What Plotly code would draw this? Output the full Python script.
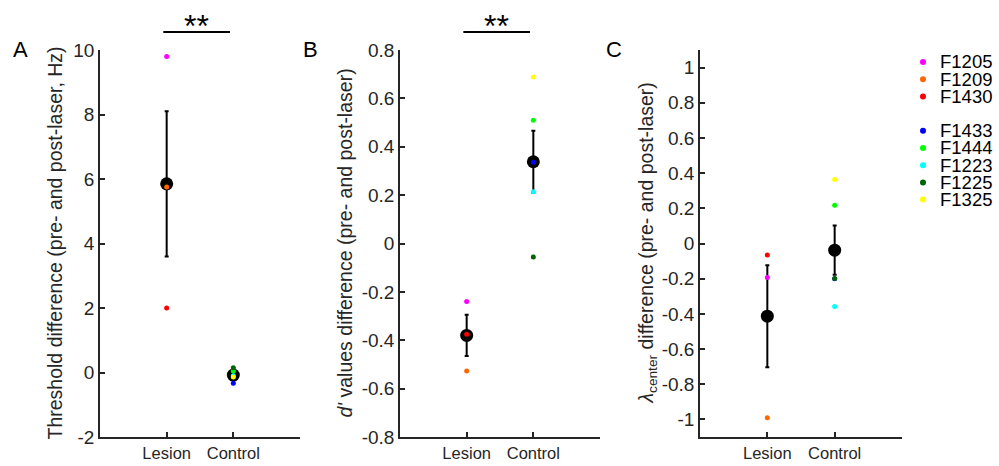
import plotly.graph_objects as go

# ---------------- data ----------------
groups = ["Lesion", "Control"]
group_pos = [1, 2]

lesion_ids = ["F1205", "F1209", "F1430"]
lesion_colors = ["#ff00ff", "#ff6600", "#ff0000"]
control_ids = ["F1433", "F1444", "F1223", "F1225", "F1325"]
control_colors = ["#0000ff", "#00ff00", "#00ffff", "#006400", "#ffff00"]

# Panel A: threshold difference (Hz)
a_lesion = [9.8, 5.75, 2.0]
a_control = [-0.33, 0.05, -0.1, 0.15, -0.14]
a_mean = [5.85, -0.08]
a_err = [2.25, 0.08]

# Panel B: d' difference
b_lesion = [-0.24, -0.527, -0.375]
b_control = [0.336, 0.51, 0.214, -0.056, 0.688]
b_mean = [-0.38, 0.338]
b_err = [0.085, 0.128]

# Panel C: lambda center difference
c_lesion = [-0.193, -0.991, -0.066]
c_control = [-0.2, 0.218, -0.358, -0.199, 0.364]
c_mean = [-0.413, -0.038]
c_err = [0.29, 0.14]

a_ticks = [-2, 0, 2, 4, 6, 8, 10]
a_ticktext = ["-2", "0", "2", "4", "6", "8", "10"]
b_ticks = [-0.8, -0.6, -0.4, -0.2, 0, 0.2, 0.4, 0.6, 0.8]
b_ticktext = ["-0.8", "-0.6", "-0.4", "-0.2", "0", "0.2", "0.4", "0.6", "0.8"]
c_ticks = [-1, -0.8, -0.6, -0.4, -0.2, 0, 0.2, 0.4, 0.6, 0.8, 1]
c_ticktext = ["-1", "-0.8", "-0.6", "-0.4", "-0.2", "0", "0.2", "0.4", "0.6", "0.8", "1"]

# ---------------- layout helpers ----------------
W, H = 999, 466
FONT = "Liberation Sans, Arial, Helvetica, sans-serif"
AXC = "#262626"
YTICK_SIZE = 19
XTICK_SIZE = 16.5
TITLE_SIZE = 19.5


def px_x(p):
    return p / W


def px_y(p):
    return 1 - p / H


ydom = [px_y(437), px_y(50)]
panels = [
    dict(xd=[px_x(100), px_x(300)], yr=[-2, 10], tv=a_ticks, tt=a_ticktext,
         les=a_lesion, con=a_control, mean=a_mean, err=a_err),
    dict(xd=[px_x(400), px_x(600)], yr=[-0.8, 0.8], tv=b_ticks, tt=b_ticktext,
         les=b_lesion, con=b_control, mean=b_mean, err=b_err),
    dict(xd=[px_x(700), px_x(902)], yr=[-1.1, 1.1], tv=c_ticks, tt=c_ticktext,
         les=c_lesion, con=c_control, mean=c_mean, err=c_err),
]

fig = go.Figure()
layout = dict(
    template="none",
    width=W, height=H, margin=dict(l=0, r=0, t=0, b=0, autoexpand=False),
    paper_bgcolor="white", plot_bgcolor="white", showlegend=False,
    font=dict(family=FONT, color=AXC, size=17),
)

for i, p in enumerate(panels):
    n = i + 1
    xa = "x" if n == 1 else f"x{n}"
    ya = "y" if n == 1 else f"y{n}"
    # means with error bars
    fig.add_trace(go.Scatter(
        x=group_pos, y=p["mean"], mode="markers", xaxis=xa, yaxis=ya,
        marker=dict(size=13, color="black", line=dict(width=0)),
        error_y=dict(type="data", array=p["err"], color="black", thickness=2, width=2),
        hoverinfo="skip"))
    # individual animals
    for val, col in zip(p["les"], lesion_colors):
        fig.add_trace(go.Scatter(x=[group_pos[0]], y=[val], mode="markers", xaxis=xa, yaxis=ya,
                                 marker=dict(size=5, color=col, line=dict(width=0))))
    for val, col in zip(p["con"], control_colors):
        fig.add_trace(go.Scatter(x=[group_pos[1]], y=[val], mode="markers", xaxis=xa, yaxis=ya,
                                 marker=dict(size=5, color=col, line=dict(width=0))))

    layout[f"xaxis{'' if n == 1 else n}"] = dict(
        domain=p["xd"], range=[0, 3], anchor=ya, showgrid=False, zeroline=False,
        automargin=False,
        showline=True, linecolor=AXC, linewidth=1.5, ticks="inside", ticklen=5,
        tickwidth=1.5, tickcolor=AXC, tickvals=group_pos, ticktext=groups,
        tickfont=dict(size=XTICK_SIZE, family=FONT, color=AXC), fixedrange=True)
    layout[f"yaxis{'' if n == 1 else n}"] = dict(
        domain=ydom, range=p["yr"], anchor=xa, showgrid=False, zeroline=False,
        automargin=False,
        showline=True, linecolor=AXC, linewidth=1.5, ticks="inside", ticklen=5,
        tickwidth=1.5, tickcolor=AXC, tickvals=p["tv"], ticktext=p["tt"],
        tickfont=dict(size=YTICK_SIZE, family=FONT, color=AXC), fixedrange=True)

# ---------------- legend drawn on a hidden axis ----------------
legend_ids = lesion_ids + [""] + control_ids
legend_cols = lesion_colors + [None] + control_colors
slot = 0
for lid, col in zip(legend_ids, legend_cols):
    if lid:
        fig.add_trace(go.Scatter(x=[0], y=[slot], mode="markers", xaxis="x4", yaxis="y4",
                                 marker=dict(size=6, color=col, line=dict(width=0))))
        fig.add_annotation(x=0, y=slot, xref="x4", yref="y4", text=lid, showarrow=False,
                           xanchor="left", yanchor="middle", xshift=16, borderpad=0,
                           font=dict(size=18.5, family=FONT, color="black"))
    slot += 1

layout["xaxis4"] = dict(domain=[px_x(913), px_x(933)], range=[-1, 1], visible=False,
                        anchor="y4", fixedrange=True, automargin=False)
slot_px = 17.2
top_off = (62 - 50) / slot_px
layout["yaxis4"] = dict(domain=ydom, range=[387 / slot_px - top_off, -top_off], visible=False,
                        anchor="x4", fixedrange=True, automargin=False)

fig.update_layout(**layout)

# ---------------- axis titles ----------------
titles = [
    ("Threshold difference (pre- and post-laser, Hz)", 55),
    ("<i>d'</i> values difference (pre- and post-laser)", 345),
    ("<i>λ</i><sub>center</sub> difference (pre- and post-laser)", 647),
]
for txt, xp in titles:
    fig.add_annotation(x=px_x(xp), y=(ydom[0] + ydom[1]) / 2, xref="paper", yref="paper",
                       text=txt, textangle=-90, showarrow=False,
                       xanchor="center", yanchor="middle",
                       font=dict(size=TITLE_SIZE, family=FONT, color=AXC))

# panel letters
for letter, xp in [("A", 20), ("B", 310), ("C", 614)]:
    fig.add_annotation(x=px_x(xp), y=px_y(50), xref="paper", yref="paper", text=letter,
                       showarrow=False, xanchor="center", yanchor="middle",
                       font=dict(size=22, family=FONT, color="black"))

# significance bars (panels A and B)
for xa in ["x", "x2"]:
    fig.add_shape(type="line", xref=xa, yref="paper", x0=0.95, x1=1.95,
                  y0=px_y(32), y1=px_y(32), line=dict(color="black", width=1.8))
    fig.add_annotation(x=1.45, y=px_y(26), xref=xa, yref="paper", text="**", showarrow=False,
                       xanchor="center", yanchor="middle",
                       font=dict(size=32, family=FONT, color="black"))

fig.write_html("out.html")
